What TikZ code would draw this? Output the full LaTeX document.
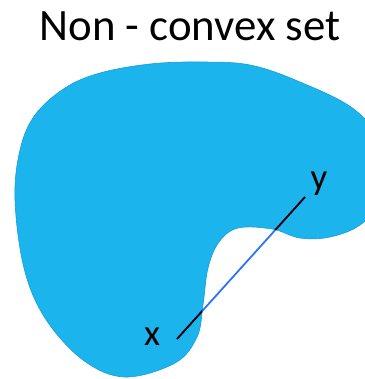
\documentclass[tikz,border=0pt]{standalone}
\usepackage{fontspec}
\setmainfont{Carlito}
\usetikzlibrary{positioning}
\definecolor{setblue}{RGB}{27,180,236}
\definecolor{setedge}{RGB}{20,160,215}
\definecolor{segblue}{RGB}{45,115,255}

\begin{document}
\begin{tikzpicture}[x=1bp,y=-1bp,
  lbl/.style={inner sep=0pt,font=\fontsize{37}{37}\selectfont}]
\useasboundingbox (0,0) rectangle (365,379);
\node[font=\fontsize{45}{45}\selectfont,anchor=base] (title) at (190,40) {Non - convex set};
% the set
\def\blob{plot[smooth cycle,tension=0.6] coordinates {(200,62) (250,65) (300,82) (355,110) (385,150) (382,200) (360,225) (330,237) (300,238) (272,229) (238,228) (219,242) (208,268) (203,305) (197,337) (175,363) (125,377) (83,360) (45,318) (24,268) (15,200) (20,150) (35,115) (65,88) (100,73) (150,64)}}
\fill[setblue,draw=setedge,line width=0.6bp] \blob;
\coordinate (px) at (177,339);
\coordinate (py) at (305,197);
\node[lbl] (xl) at (152,337) {x};
\node[lbl] (yl) at (319,184) {y};
% segment: blue outside, black inside
\draw[segblue,line width=1.8bp] (px) -- (py);
\begin{scope}
\clip \blob;
\draw[black,line width=1.8bp] (px) -- (py);
\end{scope}
\end{tikzpicture}
\end{document}
